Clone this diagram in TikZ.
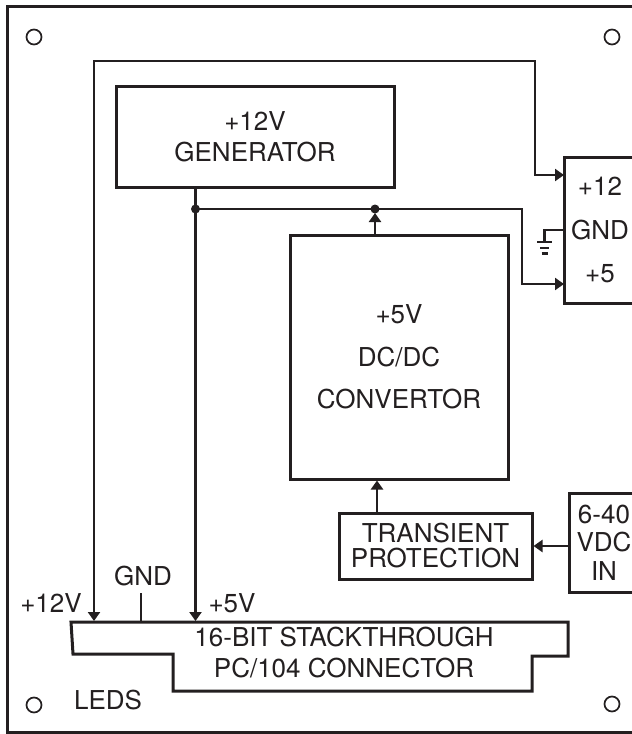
\documentclass[tikz,border=0pt]{standalone}
\usepackage{fontspec}
\setmainfont{TeX Gyre Heros}
\usetikzlibrary{arrows.meta}
\definecolor{ink}{RGB}{35,31,32}
\newcommand\txtsz[1]{\fontsize{26}{#1}\selectfont}

\begin{document}
\begin{tikzpicture}[x=1pt,y=-1pt,
  blk/.style={rectangle,draw=ink,line width=3pt,align=center,text=ink,inner sep=0pt},
  lbl/.style={text=ink,inner sep=0pt,font=\txtsz{31}},
  wire/.style={draw=ink,line width=2.3pt},
  arr/.style={wire,-{Triangle[length=9pt,width=12pt]}},
  dot/.style={circle,fill=ink,inner sep=0pt,minimum size=9pt},
  hole/.style={circle,draw=ink,line width=1.7pt,inner sep=0pt,minimum size=15pt}
]
\useasboundingbox (0,0) rectangle (632,734);
\clip (0,0) rectangle (632,734);
% board outline (right edge is off the picture)
\draw[ink,line width=3pt] (645,6) -- (7,6) -- (7,732) -- (645,732);
\node[hole] (h1) at (34,37) {};
\node[hole] (h2) at (612,37) {};
\node[hole] (h3) at (34,705) {};
\node[hole] (h4) at (612,704) {};

% blocks
\node[blk,minimum width=278pt,minimum height=101pt,font=\txtsz{31}] (gen) at (255,136.5) {+12V\\GENERATOR};
\node[blk,minimum width=218pt,minimum height=244pt,font=\txtsz{42.5}] (conv) at (399,357) {+5V\\DC/DC\\CONVERTOR};
\node[blk,minimum width=193pt,minimum height=66pt,font=\txtsz{25}] (trans) at (435.5,546) {TRANSIENT\\PROTECTION};
\node[blk,minimum width=70pt,minimum height=99pt,font=\txtsz{28.5}] (vin) at (604,542.5) {6-40\\VDC\\IN};
\node[blk,minimum width=72pt,minimum height=146pt,font=\txtsz{43.5}] (out) at (600,230) {+12\\GND\\+5};

% PC/104 connector
\draw[ink,line width=3pt] (71,622) -- (568,622) -- (568,656) -- (532,656) -- (532,691)
  -- (173,691) -- (173,654) -- (73,654) -- cycle;
\node[lbl,align=center] (conn) at (344,653) {16-BIT STACKTHROUGH\\PC/104 CONNECTOR};
\coordinate (ctop) at (0,621);

% labels
\node[lbl] (l12) at (51,603) {+12V};
\node[lbl] (lgnd) at (143,576) {GND};
\node[lbl] (l5) at (232,603) {+5V};
\node[lbl] (leds) at (108,700) {LEDS};

% wiring
\coordinate (p12) at (564,175);
\coordinate (p5) at (564,284);
\coordinate (tc) at (377,0);
\node[dot] (jA) at (195.5,209) {};
\node[dot] (jB) at (375,209) {};
\coordinate (gtop) at (141,593);

\draw[wire,{Triangle[length=9pt,width=12pt]}-{Triangle[length=9pt,width=12pt]}]
  (94,621) |- (535,61) |- (p12);
\draw[arr] (gen.south -| jA) -- (jA |- ctop);
\draw[arr] (jA.center) -| (522,284) -- (p5);
\draw[arr] (conv.north -| jB) -- ([yshift=-4pt]jB.center);
\draw[arr] (trans.north -| tc) -- (conv.south -| tc);
\draw[arr] (vin.west |- trans.east) -- (trans.east);
\draw[wire] (gtop) -- (gtop |- ctop);

% chassis ground
\draw[wire] (out.west) -| (544.5,242);
\draw[wire] (537,242) -- (552,242);
\draw[wire] (540,248) -- (549,248);
\draw[wire] (541.5,253.5) -- (547.5,253.5);
\end{tikzpicture}
\end{document}
